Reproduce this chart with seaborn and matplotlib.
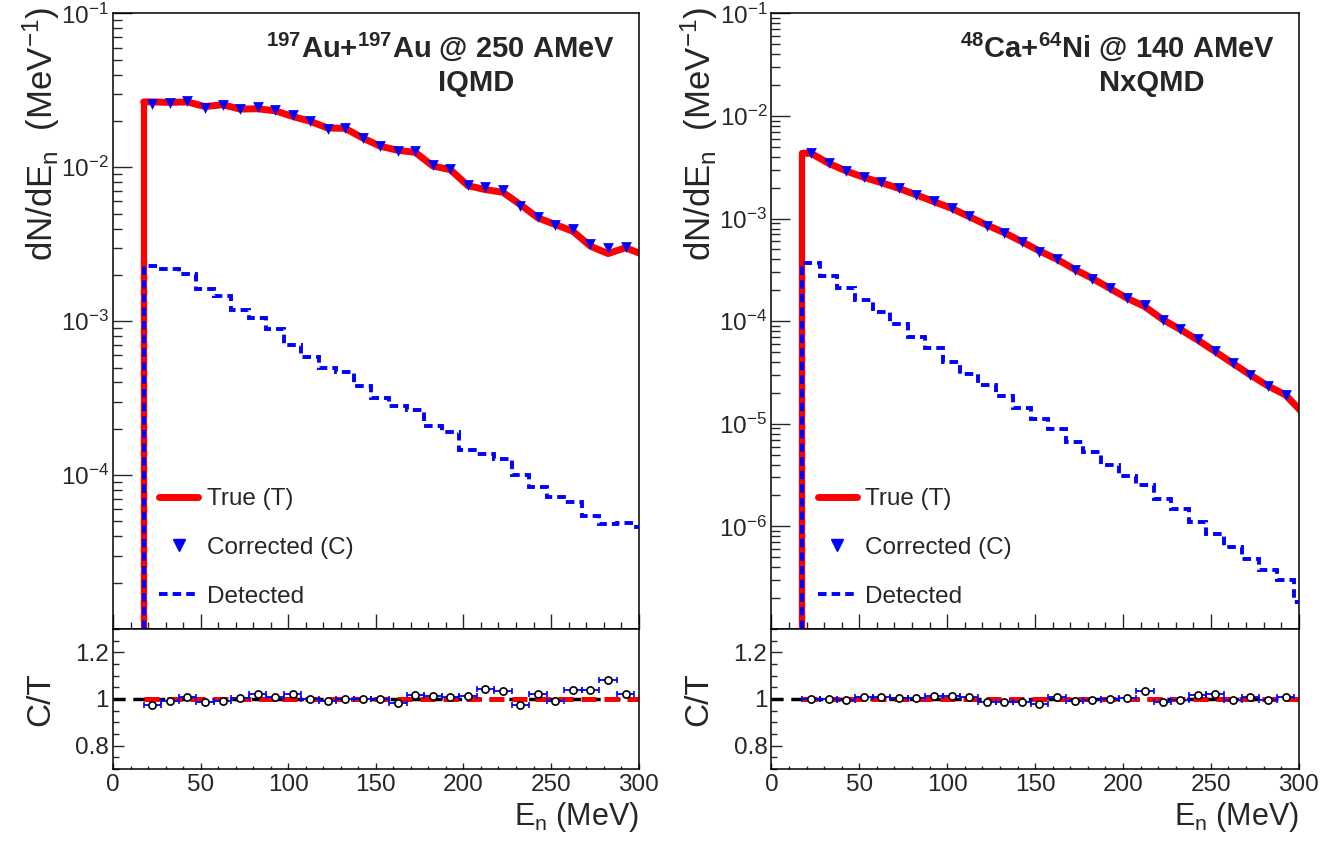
import numpy as np
import pandas as pd
import matplotlib
matplotlib.use("Agg")
import matplotlib.pyplot as plt
import seaborn as sns
from matplotlib.lines import Line2D
from matplotlib.ticker import LogLocator, NullFormatter, MultipleLocator, FormatStrFormatter, FixedLocator

# 10 MeV bins starting at 17.5 MeV (last bin lies past the 300 MeV axis edge)
bin_edges = np.arange(17.5, 308, 10.0)
bin_centers = 0.5 * (bin_edges[:-1] + bin_edges[1:])

# Au+Au @ 250 AMeV, IQMD
true_au = [0.0266, 0.0264, 0.0266, 0.0248, 0.0255, 0.0239, 0.0240, 0.0233, 0.0214, 0.0199,
           0.0180, 0.0179, 0.0155, 0.0137, 0.0129, 0.0125, 0.0102, 0.00965, 0.0076, 0.00716,
           0.00688, 0.00572, 0.00469, 0.00424, 0.00384, 0.00307, 0.00275, 0.0030, 0.00271]
det_au = [2.28e-3, 2.17e-3, 2.03e-3, 1.63e-3, 1.455e-3, 1.18e-3, 1.05e-3, 8.85e-4, 7.04e-4, 5.88e-4,
          4.99e-4, 4.70e-4, 3.80e-4, 3.17e-4, 2.82e-4, 2.65e-4, 2.08e-4, 1.91e-4, 1.46e-4, 1.37e-4,
          1.28e-4, 1.005e-4, 8.32e-5, 7.16e-5, 6.65e-5, 5.45e-5, 4.81e-5, 4.88e-5, 4.58e-5]
ratio_au = [0.974, 0.993, 1.007, 0.986, 0.993, 1.004, 1.020, 1.007, 1.023, 1.000,
            0.990, 1.000, 1.000, 1.000, 0.983, 1.016, 1.012, 1.010, 1.014, 1.043,
            1.032, 0.974, 1.019, 0.990, 1.037, 1.039, 1.082, 1.019]

# Ca+Ni @ 140 AMeV, NxQMD
true_ca = [4.33e-3, 3.46e-3, 2.91e-3, 2.525e-3, 2.24e-3, 1.97e-3, 1.70e-3, 1.46e-3, 1.26e-3, 1.044e-3,
           8.66e-4, 7.29e-4, 5.96e-4, 4.83e-4, 4.01e-4, 3.20e-4, 2.62e-4, 2.09e-4, 1.67e-4, 1.385e-4,
           1.043e-4, 8.33e-5, 6.56e-5, 5.05e-5, 3.88e-5, 2.99e-5, 2.34e-5, 1.91e-5, 1.265e-5]
det_ca = [3.72e-4, 2.76e-4, 2.09e-4, 1.61e-4, 1.24e-4, 9.39e-5, 7.07e-5, 5.44e-5, 4.03e-5, 3.06e-5,
          2.37e-5, 1.87e-5, 1.44e-5, 1.11e-5, 8.83e-6, 6.70e-6, 5.27e-6, 3.97e-6, 3.10e-6, 2.51e-6,
          1.85e-6, 1.47e-6, 1.11e-6, 8.43e-7, 6.35e-7, 4.85e-7, 3.79e-7, 3.00e-7, 1.85e-7]
ratio_ca = [1.000, 1.000, 0.997, 1.007, 1.009, 1.004, 1.003, 1.012, 1.012, 1.006,
            0.988, 0.988, 0.987, 0.978, 1.006, 0.991, 0.994, 0.999, 1.003, 1.032,
            0.988, 0.997, 1.016, 1.019, 0.997, 1.010, 0.997, 1.010]

sns.set_theme(style="white")
plt.rcParams["font.family"] = ["Liberation Sans", "DejaVu Sans"]
plt.rcParams["mathtext.fontset"] = "custom"
plt.rcParams["mathtext.rm"] = "Liberation Sans"
plt.rcParams["mathtext.it"] = "Liberation Sans:italic"
plt.rcParams["mathtext.bf"] = "Liberation Sans:bold"
plt.rcParams["axes.linewidth"] = 1.1
plt.rcParams["axes.edgecolor"] = "black"

TICK_FS = 17.5
TITLE_FS = 21
LABEL_FS = 22


def draw_panel(left, width, true, det, ratio, title, model, ylim, model_x):
    ax = fig.add_axes([left, 0.2539, width, 0.7302])
    axr = fig.add_axes([left, 0.0880, width, 0.1659])

    true = np.asarray(true)
    det = np.asarray(det)
    ratio = np.asarray(ratio)
    n = len(ratio)
    corrected = true[:n] * ratio

    # true spectrum: line through bin centres, rising at the first bin edge
    line_df = pd.DataFrame({"E": np.r_[bin_edges[0], bin_centers],
                            "y": np.r_[true[0], true]})
    ax.vlines(bin_edges[0], ylim[0], true[0], color="red", lw=4.5, zorder=2)
    sns.lineplot(data=line_df, x="E", y="y", ax=ax, color="red", lw=5,
                 estimator=None, sort=False, legend=False, zorder=2)
    # detected spectrum as dashed histogram
    ax.stairs(det, bin_edges, baseline=ylim[0], color="blue", lw=2.8,
              linestyle=(0, (2.2, 1.3)), zorder=3)
    # corrected points
    sns.scatterplot(x=bin_centers[:n], y=corrected, ax=ax, marker="v", s=60,
                    color="blue", edgecolor="blue", linewidth=0, zorder=4, legend=False)

    ax.set_yscale("log")
    ax.set_xlim(0, 300)
    ax.set_ylim(*ylim)
    decades = 10.0 ** np.arange(np.log10(ylim[0]) + 1, np.log10(ylim[1]) + 0.5)
    ax.yaxis.set_major_locator(FixedLocator(decades))
    ax.yaxis.set_minor_locator(LogLocator(base=10, subs=np.arange(2, 10), numticks=30))
    ax.yaxis.set_minor_formatter(NullFormatter())
    ax.xaxis.set_major_locator(MultipleLocator(50))
    ax.xaxis.set_minor_locator(MultipleLocator(10))
    ax.tick_params(axis="x", which="major", direction="in", length=10.8, width=1.0,
                   labelbottom=False, top=False, bottom=True)
    ax.tick_params(axis="x", which="minor", direction="in", length=5.2, width=1.0, bottom=True)
    ax.tick_params(axis="y", which="major", direction="in", length=13.5, width=1.0,
                   labelsize=TICK_FS, pad=3, left=True, right=False)
    ax.tick_params(axis="y", which="minor", direction="in", length=6.5, width=1.0, left=True)
    ax.set_xlabel("")
    ax.set_ylabel(r"dN/dE$_{\mathrm{n}}$  (MeV$^{-1}$)", fontsize=25, loc="top")
    ax.yaxis.set_label_coords(-0.098, 1.01)

    ax.text(0.955, 0.929, r"$^{\mathbf{" + title[0] + "}}$" + title[1] + r"+$^{\mathbf{" + title[2] + "}}$" + title[3],
            transform=ax.transAxes, ha="right", va="baseline", fontsize=TITLE_FS, fontweight="bold")
    ax.text(model_x, 0.874, model, transform=ax.transAxes, ha="center", va="baseline",
            fontsize=TITLE_FS, fontweight="bold")

    handles = [
        Line2D([], [], color="red", lw=5),
        Line2D([], [], color="blue", marker="v", ms=8, lw=0),
        Line2D([], [], color="blue", lw=2.8, linestyle=(0, (2.2, 1.3))),
    ]
    ax.legend(handles, ["True (T)", "Corrected (C)", "Detected"], loc="upper left",
              bbox_to_anchor=(0.088, 0.229), frameon=False, fontsize=17.5,
              handlelength=1.6, handletextpad=0.35, labelspacing=1.1,
              borderpad=0, borderaxespad=0)

    # ratio panel
    axr.axhline(1.0, color="black", lw=2.5, linestyle=(0, (3.5, 2.2)), zorder=1)
    ones_x = np.r_[bin_edges[0], bin_centers]
    ones_y = np.r_[true[0], true] / np.r_[true[0], true]
    axr.plot(ones_x, ones_y, color="red", lw=3.6, linestyle=(0, (3, 1.6)), zorder=2)
    axr.errorbar(bin_centers[:n], ratio, xerr=5, fmt="o", ms=5.2, mfc="white", mec="black",
                 mew=1.2, ecolor="blue", elinewidth=1.3, capsize=2, capthick=1.0, zorder=3)
    axr.set_xlim(0, 300)
    axr.set_ylim(0.7, 1.3)
    axr.xaxis.set_major_locator(MultipleLocator(50))
    axr.xaxis.set_minor_locator(MultipleLocator(10))
    axr.yaxis.set_major_locator(MultipleLocator(0.2))
    axr.yaxis.set_minor_locator(MultipleLocator(0.05))
    axr.yaxis.set_major_formatter(FormatStrFormatter("%g"))
    axr.tick_params(axis="x", which="major", direction="in", length=4.5, width=1.0,
                    labelsize=TICK_FS, pad=4, bottom=True, top=False)
    axr.tick_params(axis="x", which="minor", direction="in", length=2.3, width=1.0, bottom=True)
    axr.tick_params(axis="y", which="major", direction="in", length=8, width=1.0,
                    labelsize=TICK_FS, pad=3, left=True, right=False)
    axr.tick_params(axis="y", which="minor", direction="in", length=4.3, width=1.0, left=True)
    axr.set_ylabel("C/T", fontsize=24)
    axr.yaxis.set_label_coords(-0.108, 0.5)
    axr.set_xlabel(r"E$_{\mathrm{n}}$ (MeV)", fontsize=LABEL_FS, loc="right")
    axr.xaxis.set_label_coords(1.0, -0.22)
    return ax, axr


fig = plt.figure(figsize=(13.44, 8.43), dpi=100)
draw_panel(0.0841, 0.3911, true_au, det_au, ratio_au,
           ("197", "Au", "197", "Au @ 250 AMeV"), "IQMD", (1e-5, 1e-1), 0.691)
draw_panel(0.5740, 0.3923, true_ca, det_ca, ratio_ca,
           ("48", "Ca", "64", "Ni @ 140 AMeV"), "NxQMD", (1e-7, 1e-1), 0.721)

fig.savefig("out.png", dpi=100)
